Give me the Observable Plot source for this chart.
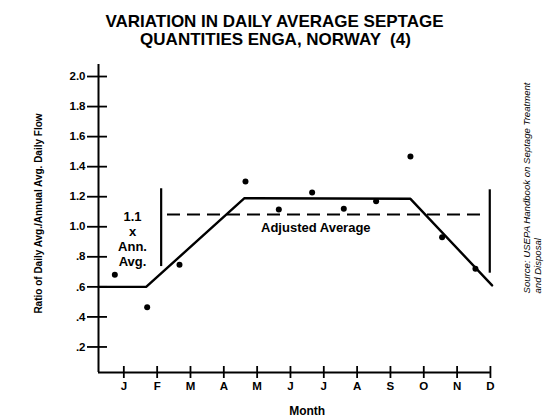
<!DOCTYPE html>
<html>
<head>
<meta charset="utf-8">
<script src="https://cdn.jsdelivr.net/npm/d3@7"></script>
<script src="https://cdn.jsdelivr.net/npm/@observablehq/plot@0.6"></script>
<style>
  html, body { margin: 0; padding: 0; background: #fff; }
  svg { font-family: "Liberation Sans", Arial, sans-serif; }
</style>
</head>
<body>
<div id="chart"></div>
<script>
// ---- data ----
const monthLabels = ["J","F","M","A","M","J","J","A","S","O","N","D"];
const monthIdx = monthLabels.map((_, i) => i);
const yTicks = [0.2, 0.4, 0.6, 0.8, 1.0, 1.2, 1.4, 1.6, 1.8, 2.0];
const yTickLabels = [".2", ".4", ".6", ".8", "1.0", "1.2", "1.4", "1.6", "1.8", "2.0"];

// observed monthly ratios (dots)
const obsX = [-0.27, 0.70, 1.67, 3.65, 4.65, 5.65, 6.60, 7.57, 8.60, 9.55, 10.55];
const obsY = [0.680, 0.465, 0.747, 1.301, 1.115, 1.228, 1.120, 1.170, 1.468, 0.930, 0.720];

// fitted seasonal trend (solid line)
const trendX = [-0.76, 0.67, 3.62, 8.60, 11.05];
const trendY = [0.60, 0.60, 1.19, 1.186, 0.61];

// adjusted average (dashed)
const adjAvg = 1.082;
const adjX = [1.31, 10.90];

// vertical bars
const barX = [1.12, 10.98];
const barY1 = [0.735, 0.691];
const barY2 = [1.253, 1.246];

// annotation anchors
const noteText = ["1.1\nx\nAnn.\nAvg.", "Adjusted Average"];
const noteX = [0.26, 5.76];
const noteY = [0.922, 1.00];

const xDomain = [-0.76, 11.05];
const yDomain = [0.03, 2.08];

const W = 553, H = 418;
const mL = 98, mR = 61.4, mT = 64, mB = 46;
const frameW = W - mL - mR, frameH = H - mT - mB;
const font = "Liberation Sans, Arial, sans-serif";

const obs = obsX.map((x, i) => ({x, y: obsY[i]}));
const trend = trendX.map((x, i) => ({x, y: trendY[i]}));
const bars = barX.map((x, i) => ({x, y1: barY1[i], y2: barY2[i]}));
const notes = noteText.map((t, i) => ({t, x: noteX[i], y: noteY[i]}));
const yt = yTicks.map((v, i) => ({v, l: yTickLabels[i]}));
const mt = monthIdx.map(i => ({i, l: monthLabels[i]}));

const plot = Plot.plot({
  width: W, height: H,
  marginLeft: mL, marginRight: mR, marginTop: mT, marginBottom: mB,
  x: {domain: xDomain, axis: null},
  y: {domain: yDomain, axis: null},
  style: {fontFamily: font, background: "#fff", color: "#000", overflow: "visible"},
  marks: [
    // axes lines
    Plot.ruleX([xDomain[0]], {stroke: "#000", strokeWidth: 2}),
    Plot.ruleY([yDomain[0]], {x1: xDomain[0], x2: monthIdx[monthIdx.length - 1], stroke: "#000", strokeWidth: 2}),
    // y ticks crossing axis
    Plot.tickY(yt, {y: "v", insetLeft: -11, insetRight: frameW - 9, stroke: "#000", strokeWidth: 1.8}),
    Plot.text(yt, {y: "v", text: "l", frameAnchor: "left", dx: -13, textAnchor: "end",
      fontSize: 11.5, fontWeight: "bold", fill: "#000"}),
    // x ticks crossing axis
    Plot.tickX(mt, {x: "i", insetTop: frameH - 6, insetBottom: -6, stroke: "#000", strokeWidth: 1.8}),
    Plot.text(mt, {x: "i", text: "l", frameAnchor: "bottom", dy: 17,
      fontSize: 11.5, fontWeight: "bold", fill: "#000"}),
    Plot.text(["Month"], {x: d3.mean(monthIdx), frameAnchor: "bottom", dy: 42,
      fontSize: 12, fontWeight: "bold", fill: "#000"}),
    // y label
    Plot.text(["Ratio of Daily Avg./Annual Avg. Daily Flow"], {frameAnchor: "left", dx: -60, dy: -5,
      rotate: -90, textAnchor: "middle", fontSize: 10, fontWeight: "bold", fill: "#000"}),
    // trend line
    Plot.line(trend, {x: "x", y: "y", stroke: "#000", strokeWidth: 2.4}),
    // adjusted average dashed line
    Plot.ruleY([adjAvg], {x1: adjX[0], x2: adjX[1], stroke: "#000", strokeWidth: 2, strokeDasharray: "13,7"}),
    // vertical bars
    Plot.ruleX(bars, {x: "x", y1: "y1", y2: "y2", stroke: "#000", strokeWidth: 2.2}),
    // observed dots
    Plot.dot(obs, {x: "x", y: "y", r: 3, fill: "#000", stroke: null}),
    // annotations
    Plot.text(notes, {x: "x", y: "y", text: "t", fontSize: d => d.t.length > 12 ? 13 : 11.5,
      lineHeight: 1.15, fontWeight: "bold", fill: "#000"}),
    // title
    Plot.text(["VARIATION IN DAILY AVERAGE SEPTAGE"], {frameAnchor: "top", dx: 274 - (mL + frameW / 2), dy: 26.7 - mT,
      lineAnchor: "bottom", fontSize: 17, fontWeight: "bold", fill: "#000"}),
    Plot.text(["QUANTITIES ENGA, NORWAY  (4)"], {frameAnchor: "top", dx: 275 - (mL + frameW / 2), dy: 44 - mT,
      lineAnchor: "bottom", fontSize: 17, fontWeight: "bold", fill: "#000", style: "white-space: pre"}),
    // source
    Plot.text(["Source: USEPA Handbook on Septage Treatment"], {frameAnchor: "right", dx: 526 - (W - mR), dy: 293 - (mT + frameH / 2),
      rotate: -90, textAnchor: "start", fontSize: 9.6, fontStyle: "italic", fill: "#000"}),
    Plot.text(["and Disposal"], {frameAnchor: "right", dx: 537 - (W - mR), dy: 293 - (mT + frameH / 2),
      rotate: -90, textAnchor: "start", fontSize: 9.6, fontStyle: "italic", fill: "#000"})
  ]
});
document.getElementById("chart").appendChild(plot);
</script>
</body>
</html>
